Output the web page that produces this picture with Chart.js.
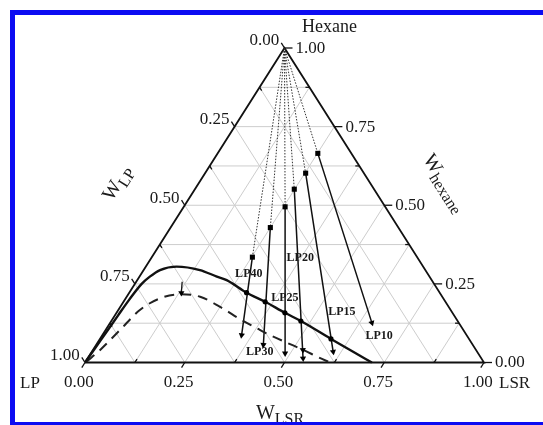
<!DOCTYPE html>
<html><head><meta charset="utf-8">
<script src="https://cdn.jsdelivr.net/npm/chart.js@4/dist/chart.umd.min.js"></script>
<style>html,body{margin:0;padding:0;background:#fff;}#wrap{width:543px;height:425px;}</style>
</head><body><div id="wrap"><canvas id="c" width="543" height="425"></canvas></div>
<script>
// ---- axis ticks ----
const gridSteps = [0.125,0.25,0.375,0.5,0.625,0.75,0.875];
const majorTicks = [0,0.25,0.5,0.75,1];
const tickText = ['0.00','0.25','0.50','0.75','1.00'];

// ---- tie lines (compositions as w_LSR, w_hexane; w_LP = 1 - both) ----
const tieNames = ['LP10','LP15','LP20','LP25','LP30','LP40'];
const feedLSR = [0.251,0.252,0.249,0.254,0.250,0.252];
const feedHex = [0.665,0.602,0.551,0.495,0.429,0.335];
const endLSR  = [0.656,0.605,0.540,0.487,0.419,0.349];
const endHex  = [0.126,0.034,0.013,0.029,0.056,0.087];
const midArrowLSR = [0.526];
const midArrowHex = [0.040];

// ---- cloud points on binodal ----
const cloudLSR = [0.579,0.475,0.422,0.355,0.294];
const cloudHex = [0.075,0.132,0.158,0.193,0.222];

// ---- binodal curves ----
const binodalLSR = [0,0.004,0.008,0.011,0.017,0.026,0.041,0.077,0.141,0.194,0.224,0.294,0.355,0.422,0.475,0.579,0.655,0.719];
const binodalHex = [0,0.072,0.150,0.200,0.250,0.273,0.294,0.305,0.294,0.273,0.262,0.222,0.193,0.158,0.132,0.075,0.034,0];
const shiftedLSR = [0.003,0.018,0.036,0.054,0.086,0.130,0.184,0.250,0.325,0.376,0.420,0.479,0.527,0.576,0.614];
const shiftedHex = [0.003,0.040,0.103,0.167,0.204,0.217,0.209,0.177,0.135,0.109,0.087,0.061,0.040,0.017,0];
const shiftArrowLSR = [0.115,0.131];
const shiftArrowHex = [0.257,0.221];

// label anchors for tie-line names (ternary coords)
const tieLabelAt = {LSR:[0.695,0.563,0.374,0.399,0.421,0.270], Hex:[0.084,0.162,0.331,0.204,0.034,0.281]};

const X = (l,h) => l + h/2;
const pts = (L,H) => L.map((l,i)=>({x:X(l,H[i]), y:H[i]}));
const GAP = {x:0, y:null};
const TOP = {x:X(0,1), y:1};

const gridData = [];
gridSteps.forEach(v=>{
  gridData.push({x:X(0,v),y:v},{x:X(1-v,v),y:v},GAP);
  gridData.push({x:X(v,0),y:0},{x:X(v,1-v),y:1-v},GAP);
  gridData.push({x:X(1-v,0),y:0},{x:X(0,1-v),y:1-v},GAP);
});
const edgeData = [{x:X(0,0),y:0},{x:X(1,0),y:0},{x:X(0,1),y:1},{x:X(0,0),y:0}];
const feedPts = pts(feedLSR, feedHex);
const endPts = pts(endLSR, endHex);
const dottedData = []; feedPts.forEach(p=>dottedData.push(TOP,p,GAP));
const solidData = []; feedPts.forEach((p,i)=>solidData.push(p,endPts[i],GAP));
const arrowData = endPts.concat(pts(midArrowLSR, midArrowHex));
const shiftArrow = pts(shiftArrowLSR, shiftArrowHex);

const SERIF = '"Liberation Serif","Times New Roman",serif';
const base = {showLine:true, pointRadius:0, pointHoverRadius:0, clip:false, fill:false};

function txt(ctx,s,x,y,font,align,baseline,rot){
  ctx.save(); ctx.translate(x,y); if(rot) ctx.rotate(rot);
  ctx.font=font; ctx.textAlign=align; ctx.textBaseline=baseline; ctx.fillText(s,0,0); ctx.restore();
}
function subTxt(ctx,main,sub,cx,cy,rot,f1,f2,shift){
  ctx.save(); ctx.translate(cx,cy); ctx.rotate(rot||0);
  ctx.font=f1; const w1=ctx.measureText(main).width;
  ctx.font=f2; const w2=ctx.measureText(sub).width;
  const x0=-(w1+w2)/2;
  ctx.textAlign='left'; ctx.textBaseline='alphabetic';
  ctx.font=f1; ctx.fillText(main,x0,0);
  ctx.font=f2; ctx.fillText(sub,x0+w1,shift);
  ctx.restore();
}

const decor = {
  id:'decor',
  beforeDraw(chart){ const c=chart.ctx; c.save(); c.fillStyle='#fff'; c.fillRect(0,0,chart.width,chart.height); c.restore(); },
  afterDatasetsDraw(chart){
    const ctx=chart.ctx, xs=chart.scales.x, ys=chart.scales.y;
    const P=(l,h)=>[xs.getPixelForValue(X(l,h)), ys.getPixelForValue(h)];
    const A=P(0,0), B=P(1,0), T=P(0,1);
    const unit=v=>{const n=Math.hypot(v[0],v[1]);return [v[0]/n,v[1]/n];};
    const dB=unit([A[0]-T[0],A[1]-T[1]]);
    const dL=unit([T[0]-B[0],T[1]-B[1]]);
    const dR=[1,0];
    ctx.save(); ctx.strokeStyle='#111'; ctx.lineWidth=1.3; ctx.fillStyle='#1a1a1a';
    const tick=(p,d,len)=>{ctx.beginPath();ctx.moveTo(p[0],p[1]);ctx.lineTo(p[0]+d[0]*len,p[1]+d[1]*len);ctx.stroke();};
    const F='17px '+SERIF;
    majorTicks.forEach((v,i)=>{
      let p=P(v,0); tick(p,dB,6);
      txt(ctx,tickText[i],p[0]+dB[0]*6-3,p[1]+20,F,'center','middle');
      p=P(0,1-v); tick(p,dL,6);
      txt(ctx,tickText[i],p[0]+dL[0]*6-2,p[1]+dL[1]*6-2,F,'right','middle');
      p=P(1-v,v); tick(p,dR,8);
      txt(ctx,tickText[i],p[0]+11,p[1]+0.5,F,'left','middle');
    });
    gridSteps.filter(v=>!majorTicks.includes(v)).forEach(v=>{
      tick(P(v,0),[-dB[0],-dB[1]],4);
      tick(P(0,1-v),[-dL[0],-dL[1]],4);
      tick(P(1-v,v),[-1,0],4);
    });
    // tie line names
    tieNames.forEach((n,i)=>{
      const p=P(tieLabelAt.LSR[i], tieLabelAt.Hex[i]);
      txt(ctx,n,p[0],p[1],'bold 12px '+SERIF,'center','middle');
    });
    // vertex & axis titles
    txt(ctx,'Hexane',302,32,'18px '+SERIF,'left','alphabetic');
    txt(ctx,'LP',20,388,'17px '+SERIF,'left','alphabetic');
    txt(ctx,'LSR',499,388,'17px '+SERIF,'left','alphabetic');
    subTxt(ctx,'W','LSR',280,419,0,'20px '+SERIF,'16px '+SERIF,5);
    subTxt(ctx,'W','LP',122,186,Math.atan2(T[1]-A[1],T[0]-A[0]),'20px '+SERIF,'16px '+SERIF,5);
    subTxt(ctx,'W','hexane',440,186,Math.atan2(B[1]-T[1],B[0]-T[0]),'20px '+SERIF,'16px '+SERIF,5);
    // frame
    ctx.fillStyle='#0c0cf2';
    ctx.fillRect(10,10,5,415);
    ctx.fillRect(10,10,533,5);
    ctx.fillRect(10,422,533,3);
    ctx.restore();
  }
};

const arrowRot = c => {
  const p=c.raw; if(!p) return 180;
  const xs=c.chart.scales.x, ys=c.chart.scales.y;
  const dx=xs.getPixelForValue(p.x)-xs.getPixelForValue(TOP.x);
  const dy=ys.getPixelForValue(p.y)-ys.getPixelForValue(TOP.y);
  return Math.atan2(dx,-dy)*180/Math.PI;
};

new Chart(document.getElementById('c'), {
  type:'scatter',
  data:{datasets:[
    {...base, label:'cloud', showLine:false, data:pts(cloudLSR,cloudHex), pointRadius:2.6, pointStyle:'circle', pointBackgroundColor:'#000', pointBorderWidth:0, order:1},
    {...base, label:'feed', showLine:false, data:feedPts, pointRadius:3.6, pointStyle:'rect', pointBackgroundColor:'#000', pointBorderColor:'#000', pointBorderWidth:0, order:1},
    {...base, label:'arrows', showLine:false, data:arrowData, pointRadius:3.6, pointStyle:'triangle', pointRotation:arrowRot, pointBackgroundColor:'#000', pointBorderColor:'#000', pointBorderWidth:0, order:2},
    {...base, label:'shiftArrowHead', showLine:false, data:[shiftArrow[1]], pointRadius:3.6, pointStyle:'triangle', pointRotation:180, pointBackgroundColor:'#000', pointBorderWidth:0, order:2},
    {...base, label:'shiftArrow', data:shiftArrow, borderColor:'#111', borderWidth:1.3, order:3},
    {...base, label:'binodal', data:pts(binodalLSR,binodalHex), borderColor:'#111', borderWidth:2.4, cubicInterpolationMode:'monotone', order:3},
    {...base, label:'shifted', data:pts(shiftedLSR,shiftedHex), borderColor:'#222', borderWidth:2, borderDash:[10,7], cubicInterpolationMode:'monotone', order:3},
    {...base, label:'ties', data:solidData, borderColor:'#111', borderWidth:1.5, order:4},
    {...base, label:'dotted', data:dottedData, borderColor:'#333', borderWidth:1, borderDash:[1.5,1.5], order:5},
    {...base, label:'edges', data:edgeData, borderColor:'#111', borderWidth:1.8, order:6},
    {...base, label:'grid', data:gridData, borderColor:'#cdcdcd', borderWidth:1, order:7}
  ]},
  options:{
    responsive:false, animation:false, events:[],
    layout:{padding:{left:85,right:59,top:48,bottom:62.5}},
    scales:{
      x:{type:'linear',min:0,max:1,display:false},
      y:{type:'linear',min:0,max:1,display:false}
    },
    plugins:{legend:{display:false},tooltip:{enabled:false}}
  },
  plugins:[decor]
});
</script></body></html>
